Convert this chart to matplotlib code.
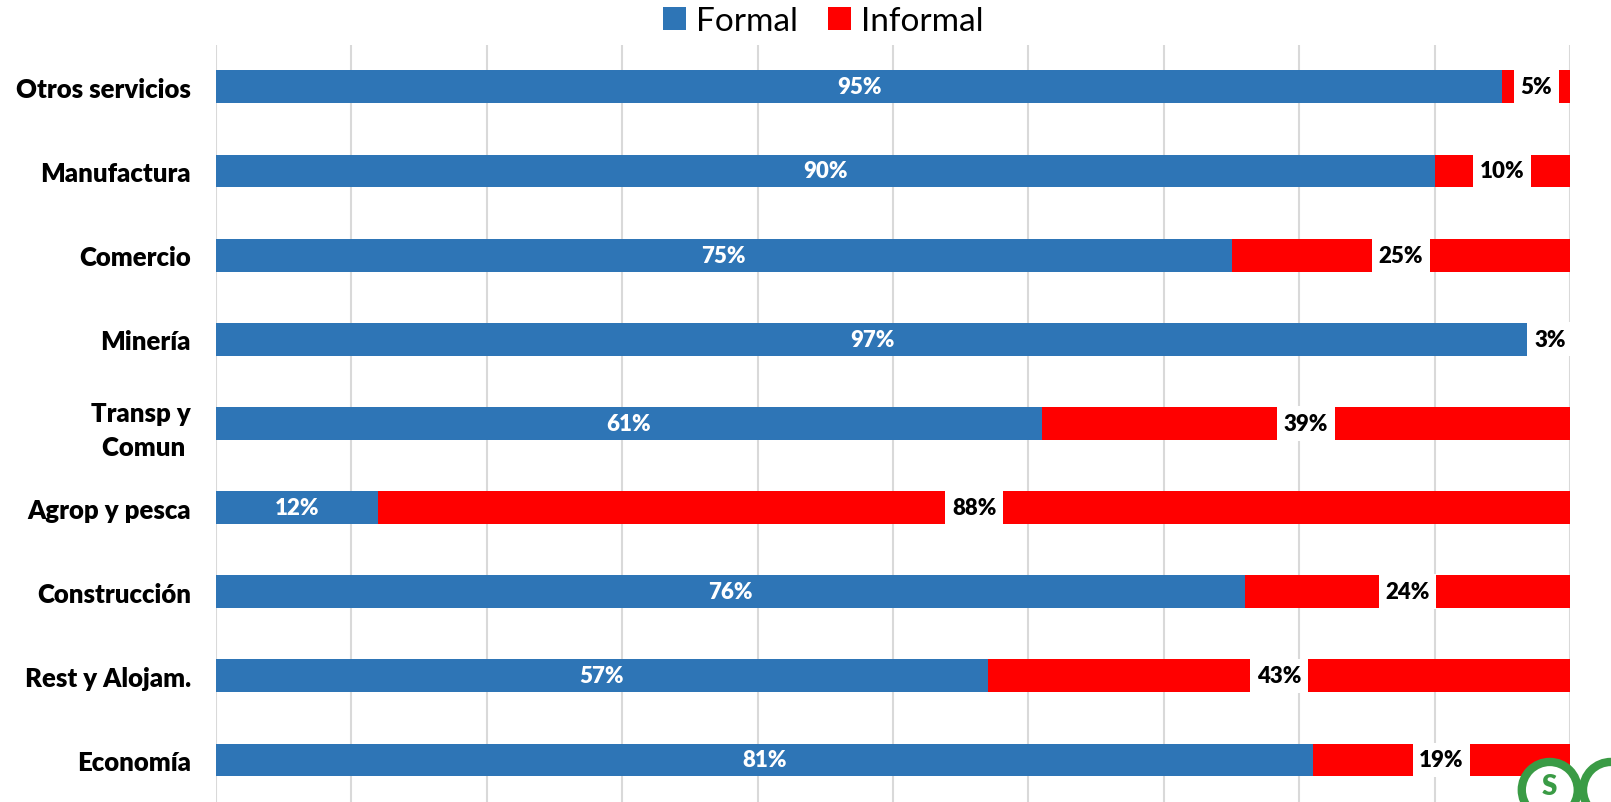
import matplotlib.pyplot as plt
import numpy as np
from matplotlib.patches import Circle

categories = ["Otros servicios", "Manufactura", "Comercio", "Minería", "Transp y\nComun ",
              "Agrop y pesca", "Construcción", "Rest y Alojam.", "Economía"]
formal = [95, 90, 75, 97, 61, 12, 76, 57, 81]
informal = [5, 10, 25, 3, 39, 88, 24, 43, 19]

BLUE = "#2E75B6"
RED = "#FF0000"

plt.rcParams["font.family"] = ["Lato", "DejaVu Sans"]

fig = plt.figure(figsize=(16.11, 8.03), dpi=100)
ax = fig.add_axes([0.134, 0.0, 0.8406, 0.943])

y = np.arange(len(categories))
h = 0.39
ax.barh(y, formal, height=h, color=BLUE, label="Formal", zorder=2)
ax.barh(y, informal, left=formal, height=h, color=RED, label="Informal", zorder=2)

for i, (f, inf) in enumerate(zip(formal, informal)):
    ax.text(f / 2, i, f"{f}%", ha="center", va="center", color="white",
            fontsize=16, fontweight="heavy", zorder=4)
    ax.text(f + inf / 2, i, f"{inf}%", ha="center", va="center", color="black",
            fontsize=16, fontweight="heavy", zorder=4,
            bbox=dict(boxstyle="square,pad=0.3", fc="white", ec="none"))

ax.set_xlim(0, 100)
ax.set_ylim(len(categories) - 0.5, -0.5)
ax.set_xticks(np.arange(0, 101, 10))
ax.set_xticklabels([])
ax.tick_params(axis="x", length=0)
ax.tick_params(axis="y", length=0, pad=18)
ax.set_yticks(y)
ax.set_yticklabels(categories, fontsize=18.5, fontweight="heavy", linespacing=1.5)
ax.grid(axis="x", color="#D9D9D9", linewidth=1.5, zorder=0)
ax.set_axisbelow(True)
for s in ax.spines.values():
    s.set_visible(False)

fig.legend(loc="center", bbox_to_anchor=(0.511, 0.972), ncol=2, frameon=False,
           fontsize=24, handlelength=0.7, handleheight=0.7, handletextpad=0.3,
           columnspacing=0.9)

# partial logo at the bottom-right corner
green = "#3A9B45"
for cx in (0.962, 1.0):
    fig.patches.append(Circle((cx * 1611, 0.015 * 803), 28, transform=None,
                              fc="white", ec=green, lw=6, zorder=5))
fig.text(0.962, 0.004, "S", color=green, fontsize=20, fontweight="heavy",
         ha="center", va="bottom", zorder=6)

fig.savefig("out.png", dpi=100)
